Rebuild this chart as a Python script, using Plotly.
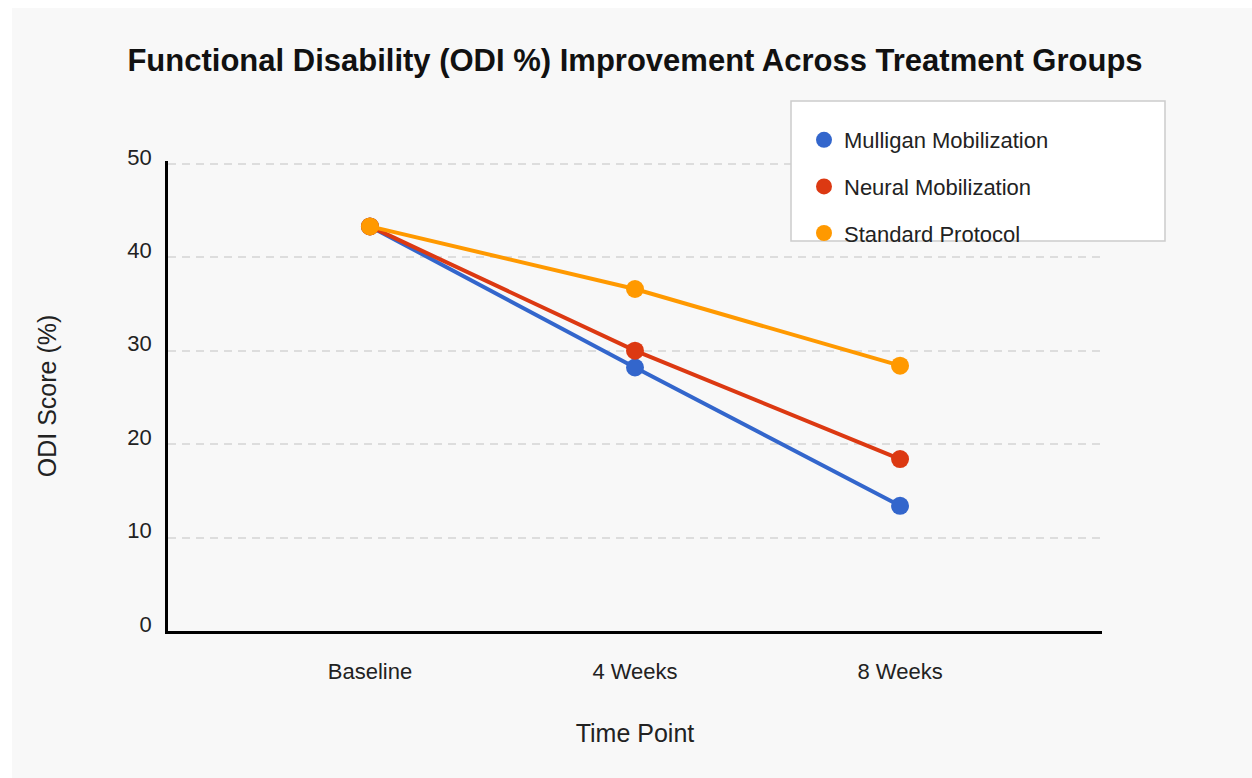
import plotly.graph_objects as go

# Time points and ODI (%) scores per treatment group
time_points = ["Baseline", "4 Weeks", "8 Weeks"]
mulligan = [43.3, 28.2, 13.4]
neural = [43.3, 30.0, 18.4]
standard = [43.3, 36.6, 28.4]

series_names = ["Mulligan Mobilization", "Neural Mobilization", "Standard Protocol"]
series_values = [mulligan, neural, standard]
series_colors = ["#3366cc", "#dc3912", "#ff9900"]

Y_MAX = 50.3

W, H = 1252, 778
ML, MR, MT, MB = 168, 150, 161, 147
PW, PH = W - ML - MR, H - MT - MB


def px_x(p):
    return (p - ML) / PW


def px_y(p):
    return (H - MB - p) / PH


font_family = "Liberation Sans, Arial, sans-serif"

fig = go.Figure()

for name, vals, col in zip(series_names, series_values, series_colors):
    fig.add_trace(go.Scatter(
        x=time_points, y=vals, mode="lines+markers", name=name,
        line=dict(color=col, width=4),
        marker=dict(color=col, size=18),
        showlegend=False,
    ))

# Dot-only legend entries
for i, (name, col) in enumerate(zip(series_names, series_colors)):
    fig.add_trace(go.Scatter(
        x=[None], y=[None], mode="markers", name=name,
        marker=dict(color=col, size=18),
        legendgroup=f"g{i}", showlegend=True,
    ))

shapes = [
    # chart background panel
    dict(type="rect", xref="paper", yref="paper", layer="below",
         x0=px_x(12), x1=px_x(W + 2), y0=px_y(H + 2), y1=px_y(8),
         fillcolor="#f8f8f8", line=dict(width=0)),
    # legend box
    dict(type="rect", xref="paper", yref="paper", layer="above",
         x0=px_x(791), x1=px_x(1165), y0=px_y(241), y1=px_y(101),
         fillcolor="white", line=dict(color="#cccccc", width=1.5)),
]

fig.update_layout(
    width=W, height=H,
    margin=dict(l=ML, r=MR, t=MT, b=MB),
    paper_bgcolor="white",
    plot_bgcolor="rgba(0,0,0,0)",
    font=dict(family=font_family, color="#222222"),
    title=dict(
        text="<b>Functional Disability (ODI %) Improvement Across Treatment Groups</b>",
        x=0.5, xref="paper", xanchor="center",
        y=1 - 60 / H, yanchor="middle",
        font=dict(size=31, color="#111111"),
    ),
    xaxis=dict(
        type="category",
        range=[-0.762, 2.762],
        showline=True, linecolor="black", linewidth=3,
        showgrid=False, zeroline=False,
        ticks="", ticklabelstandoff=19,
        tickfont=dict(size=22, color="#222222"),
        title=dict(text="Time Point", font=dict(size=25, color="#222222"), standoff=42),
    ),
    yaxis=dict(
        range=[0, Y_MAX],
        tickvals=[0, 10, 20, 30, 40, 50],
        showline=True, linecolor="black", linewidth=2.5,
        showgrid=True, gridcolor="#dddddd", gridwidth=1.5, griddash="8px,6px",
        zeroline=False,
        ticks="", ticklabelstandoff=9, ticklabelshift=-7,
        tickfont=dict(size=22, color="#222222"),
        title=dict(text="ODI Score (%)", font=dict(size=25, color="#222222"), standoff=64),
    ),
    legend=dict(
        x=px_x(804), y=px_y(119), xanchor="left", yanchor="top",
        bgcolor="rgba(0,0,0,0)", borderwidth=0,
        font=dict(size=22, color="#222222"),
        tracegroupgap=15,
    ),
    shapes=shapes,
)

fig.write_html("out.html")
